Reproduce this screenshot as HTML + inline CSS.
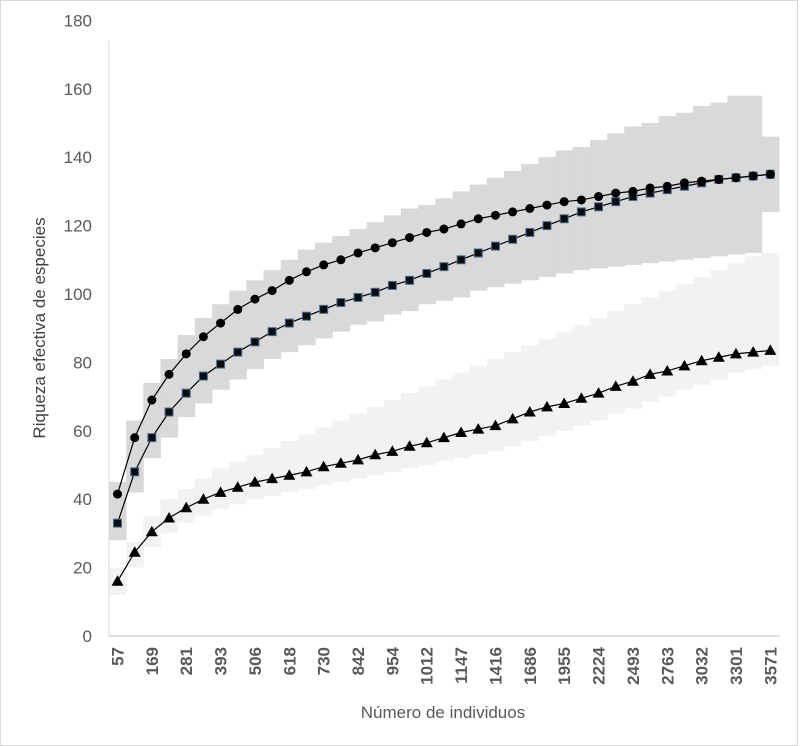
<!DOCTYPE html>
<html><head><meta charset="utf-8"><style>
html,body{margin:0;padding:0;background:#fff;}
svg{display:block;font-family:"Liberation Sans",Arial,sans-serif;}
</style></head><body>
<svg id="chart" width="800" height="746" viewBox="0 0 800 746">
<rect x="0.5" y="0.5" width="797" height="745" fill="#fff" stroke="#d9d9d9"/>
<g id="bands"></g><g id="axes"></g><g id="series"></g>
<text transform="translate(45,328) rotate(-90)" text-anchor="middle" font-size="17" fill="#404040">Riqueza efectiva de especies</text>
<text x="443" y="718" text-anchor="middle" font-size="17" fill="#595959">Número de individuos</text>
</svg>
<script>
const categories=[57,null,169,null,281,null,393,null,506,null,618,null,730,null,842,null,954,null,1012,null,1147,null,1416,null,1686,null,1955,null,2224,null,2493,null,2763,null,3032,null,3301,null,3571];
const yTicks=[0,20,40,60,80,100,120,140,160,180];
const circleVals=[41.5,58,69,76.5,82.5,87.5,91.5,95.5,98.5,101,104,106.5,108.5,110,112,113.5,115,116.5,118,119,120.5,122,123,124,125,126,127,127.5,128.5,129.5,130,131,131.5,132.5,133,133.5,134,134.5,135];
const squareVals=[33,48,58,65.5,71,76,79.5,83,86,89,91.5,93.5,95.5,97.5,99,100.5,102.5,104,106,108,110,112,114,116,118,120,122,124,125.5,127,128.5,129.5,130.5,131.5,132.5,133.5,134,134.5,135];
const triVals=[16,24.5,30.5,34.5,37.5,40,42,43.5,45,46,47,48,49.5,50.5,51.5,53,54,55.5,56.5,58,59.5,60.5,61.5,63.5,65.5,67,68,69.5,71,73,74.5,76.5,77.5,79,80.5,81.5,82.5,83,83.5];
const darkUpper=[45,63,74,81,88,93,97,101,104,107,110,113,115,117,119,121,123,125,126,128,130,132,134,136,138,140,142,143,145,147,149,150,152,153,155,156,158,158,146];
const darkLower=[28,42,52,58,64,68,72,75,78,81,83,85,87,89,91,92,94,95,97,98,99,101,102,103,104,105,106,107,107.5,108,108.5,109,109.5,110,110.5,111,111.5,112,124];
const lightUpper=[20,27.5,35,40,43,46,49,51,53,55,57,59,61,63,65,67,69,71,73,75,77,79,81,83,85,87,89,91,93,95,97,99,101,103,105,107,109,111,112];
const lightLower=[12,20,26,30,33,35,37,38.5,40,41,42,43,44,45,46,47,48,49,50,51,52,53,54,55.5,57,58.5,60,61.5,63,65,66.5,68.5,70,72,73.5,75,77,78,79];

const NS='http://www.w3.org/2000/svg';
const X0=117.5,STEP=17.18,Y0=636,YK=3.42;
const xs=i=>X0+i*STEP, ys=v=>Y0-v*YK;
function mk(tag,attrs,parent){const e=document.createElementNS(NS,tag);for(const k in attrs)e.setAttribute(k,attrs[k]);parent.appendChild(e);return e;}
const bands=document.getElementById('bands'),axes=document.getElementById('axes'),ser=document.getElementById('series');
function band(up,lo,fill,name){
  for(let i=0;i<up.length;i++){
    const r=mk('rect',{x:xs(i)-STEP/2,y:ys(up[i]),width:STEP+0.5,height:ys(lo[i])-ys(up[i]),fill:fill},bands);
    
    
  }
}
band(lightUpper,lightLower,'#f2f2f2','triangle-confidence-band');
band(darkUpper,darkLower,'#d9d9d9','circle-square-confidence-band');
let ax=mk('line',{x1:109,y1:Y0,x2:780,y2:Y0,stroke:'#bfbfbf','stroke-width':1},axes);

let ay=mk('line',{x1:109,y1:ys(180)+20,x2:109,y2:Y0,stroke:'#d9d9d9','stroke-width':1},axes);

yTicks.forEach(v=>{
  const t=mk('text',{x:92,y:ys(v)+6,'text-anchor':'end','font-size':17,fill:'#595959'},axes);
  t.textContent=v;
  
  
});
categories.forEach((c,i)=>{
  if(c===null)return;
  const t=mk('text',{transform:`translate(${xs(i)+6},647) rotate(-90)`,'text-anchor':'end','font-size':17,'font-weight':'bold',fill:'#595959'},axes);
  t.textContent=c;
  
  
});
function line(vals,name){
  const p=mk('polyline',{points:vals.map((v,i)=>xs(i)+','+ys(v)).join(' '),fill:'none',stroke:'#000','stroke-width':1.2},ser);
  
  
}
line(triVals,'triangle-series-line');line(squareVals,'square-series-line');line(circleVals,'circle-series-line');
triVals.forEach((v,i)=>{const x=xs(i),y=ys(v);
  const m=mk('polygon',{points:`${x},${y-6} ${x-6},${y+4.5} ${x+6},${y+4.5}`,fill:'#000'},ser);
  });
squareVals.forEach((v,i)=>{
  const m=mk('rect',{x:xs(i)-4,y:ys(v)-4,width:8,height:8,fill:'#0d0d0d',stroke:'#4a6f9a','stroke-width':1},ser);
  });
circleVals.forEach((v,i)=>{
  const m=mk('circle',{cx:xs(i),cy:ys(v),r:4.5,fill:'#000'},ser);
  });
</script>
</body></html>
